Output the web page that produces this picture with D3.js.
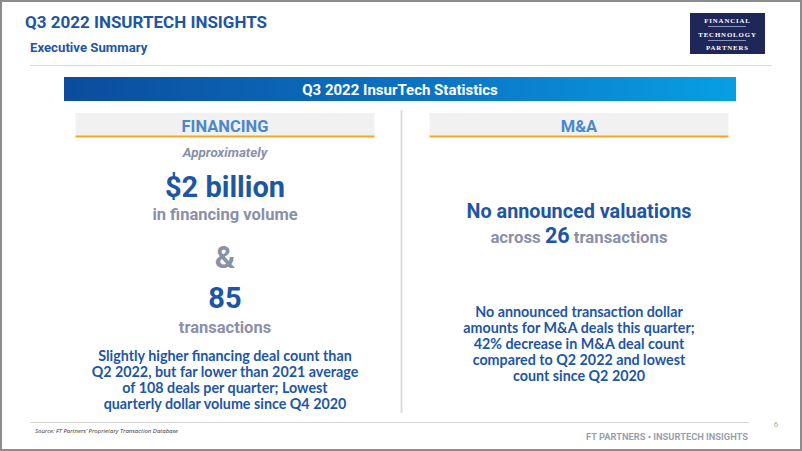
<!DOCTYPE html>
<html><head><meta charset="utf-8">
<script src="https://cdn.jsdelivr.net/npm/d3@7"></script>
<style>body{margin:0;background:#fff}svg{display:block}</style>
</head><body>
<svg id="c" width="802" height="451"></svg>
<script>
const title = "Q3 2022 INSURTECH INSIGHTS";
const subtitle = "Executive Summary";
const banner = "Q3 2022 InsurTech Statistics";
const sections = ["FINANCING", "M&A"];
const financingVolume = "$2 billion";
const financingDeals = 85;
const maDeals = 26;
const financingNote = ["Slightly higher financing deal count than", "Q2 2022, but far lower than 2021 average", "of 108 deals per quarter; Lowest", "quarterly dollar volume since Q4 2020"];
const maNote = ["No announced transaction dollar", "amounts for M&A deals this quarter;", "42% decrease in M&A deal count", "compared to Q2 2022 and lowest", "count since Q2 2020"];
const logoLines = ["FINANCIAL", "TECHNOLOGY", "PARTNERS"];
const source = "Source: FT Partners\u2019 Proprietary Transaction Database";
const footer = "FT PARTNERS \u2022 INSURTECH INSIGHTS";
const pageNum = "6";

const svg = d3.select("#c");
const blue = "#1d56a3", gray = "#8a90a8", R = "Roboto, sans-serif";

// border
svg.append("rect").attr("x",1).attr("y",1).attr("width",800).attr("height",449).attr("fill","none").attr("stroke","#8c8c8c").attr("stroke-width",2);

svg.append("text").attr("x",25).attr("y",28).text(title).attr("font-family",R).attr("font-weight",700).attr("font-size",17).attr("fill",blue);
svg.append("text").attr("x",30).attr("y",52).text(subtitle).attr("font-family",R).attr("font-weight",700).attr("font-size",13.2).attr("fill",blue);
svg.append("line").attr("x1",30).attr("x2",772).attr("y1",65.5).attr("y2",65.5).attr("stroke","#dcdcdc");

// logo
const lg = svg.append("g");
lg.append("rect").attr("x",690).attr("y",13).attr("width",75).attr("height",41).attr("fill","#1f2658");
const ly = d3.scalePoint().domain(logoLines).range([23,50]);
logoLines.forEach(t=>{
  lg.append("text").attr("x",727.5).attr("y",ly(t)).attr("text-anchor","middle").text(t)
   .attr("font-family","Liberation Serif, serif").attr("font-weight",700).attr("font-size",6.8).attr("letter-spacing",0.9).attr("fill","#fff");
});
[26.5,40.5].forEach(y=>lg.append("line").attr("x1",708).attr("x2",746).attr("y1",y).attr("y2",y).attr("stroke","#9fb0d8").attr("stroke-width",0.8));

// banner
const defs = svg.append("defs");
const gr = defs.append("linearGradient").attr("id","bg");
gr.append("stop").attr("offset","0%").attr("stop-color","#0b4c9c");
gr.append("stop").attr("offset","55%").attr("stop-color","#0c74c4");
gr.append("stop").attr("offset","100%").attr("stop-color","#079fe3");
svg.append("rect").attr("x",64).attr("y",77).attr("width",672).attr("height",24).attr("fill","url(#bg)");
svg.append("text").attr("x",400).attr("y",94.5).attr("text-anchor","middle").text(banner).attr("font-family",R).attr("font-weight",700).attr("font-size",15).attr("fill","#fff");

// divider
svg.append("line").attr("x1",401.5).attr("x2",401.5).attr("y1",110).attr("y2",413).attr("stroke","#dedede").attr("stroke-width",2);

const cx = d3.scaleOrdinal().domain(sections).range([225,579]);
sections.forEach(s=>{
  const c = cx(s);
  svg.append("rect").attr("x",c-149.5).attr("y",113).attr("width",299).attr("height",23).attr("fill","#f1f1f1");
  svg.append("rect").attr("x",c-149.5).attr("y",135.5).attr("width",299).attr("height",2).attr("fill","#f3ab1b");
  svg.append("text").attr("x",c).attr("y",131.5).attr("text-anchor","middle").text(s).attr("font-family",R).attr("font-weight",700).attr("font-size",16.5).attr("fill","#4a88cc");
});

function t(x,y,str,size,color,opts={}){
  const e = svg.append("text").attr("x",x).attr("y",y).attr("text-anchor","middle").text(str)
    .attr("font-family",opts.font||R).attr("font-weight",700).attr("font-size",size).attr("fill",color);
  if(opts.italic) e.attr("font-style","italic");
  return e;
}
const fx = cx("FINANCING"), mx = cx("M&A");
t(fx,157,"Approximately",13.4,gray,{italic:true});
t(fx,197,financingVolume,29,blue);
t(fx,220,"in financing volume",16.5,gray);
t(fx,268,"&",31,gray);
t(fx,308,String(financingDeals),29,blue);
t(fx,333,"transactions",16.5,gray);
const noteY = d3.scaleLinear().domain([0,1]).range([361,377]);
financingNote.forEach((l,i)=>t(fx,noteY(i),l,14.3,blue,{font:"Lato, sans-serif"}));

t(mx,218,"No announced valuations",19.8,blue);
const ac = svg.append("text").attr("x",mx).attr("y",243).attr("text-anchor","middle").attr("font-family",R).attr("font-weight",700);
ac.append("tspan").text("across ").attr("font-size",16.8).attr("fill",gray);
ac.append("tspan").text(String(maDeals)).attr("font-size",21.5).attr("fill",blue);
ac.append("tspan").text(" transactions").attr("font-size",16.8).attr("fill",gray);
const maY = d3.scaleLinear().domain([0,1]).range([317,333]);
maNote.forEach((l,i)=>t(mx,maY(i),l,14.3,blue,{font:"Lato, sans-serif"}));

// footer
svg.append("line").attr("x1",30).attr("x2",749).attr("y1",422.5).attr("y2",422.5).attr("stroke","#d6d6d6");
svg.append("text").attr("x",35).attr("y",433).text(source).attr("font-family","Open Sans, sans-serif").attr("font-style","italic").attr("font-size",6).attr("fill","#333");
svg.append("text").attr("x",776).attr("y",427).attr("text-anchor","middle").text(pageNum).attr("font-family",R).attr("font-size",8).attr("fill","#aaa");
svg.append("text").attr("x",748).attr("y",440).attr("text-anchor","end").text(footer).attr("font-family",R).attr("font-weight",700).attr("font-size",9.3).attr("fill","#9a9fb0");
</script>
</body></html>
